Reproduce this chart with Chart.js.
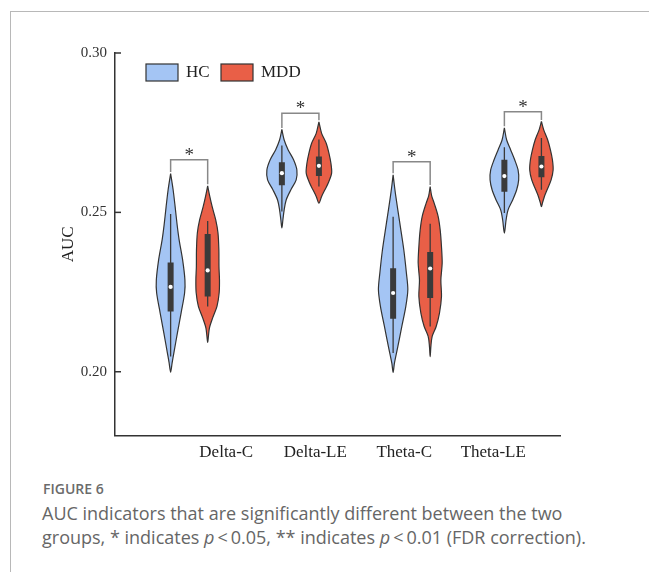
<!DOCTYPE html>
<html>
<head>
<meta charset="utf-8">
<script src="https://cdn.jsdelivr.net/npm/chart.js@4.4.1/dist/chart.umd.min.js"></script>
<style>
  html, body { margin: 0; padding: 0; background: #fff; }
  body { width: 649px; height: 572px; position: relative; overflow: hidden; }
  #frame { position: absolute; left: 10px; top: 11px; right: -5px; bottom: -5px; border-left: 1px solid #b8b8b8; border-top: 1px solid #b8b8b8; }
  #chart { position: absolute; left: 0; top: 0; }
  .fig { position: absolute; left: 43px; top: 481.5px; font: 600 14px/14px "Open Sans", sans-serif; color: #6b6b6b; }
  .cap { position: absolute; left: 42px; top: 502px; width: 600px; font: 400 18px/23.5px "Open Sans", sans-serif; color: #666; }
</style>
</head>
<body>
<div id="frame"></div>
<canvas id="chart" width="649" height="470"></canvas>
<div class="fig">FIGURE 6</div>
<div class="cap">AUC indicators that are significantly different between the two<br>groups, * indicates <i>p</i>&thinsp;&lt;&thinsp;0.05, ** indicates <i>p</i>&thinsp;&lt;&thinsp;0.01 (FDR correction).</div>
<script>
const categories = ['Delta-C', 'Delta-LE', 'Theta-C', 'Theta-LE'];
const groups = ['HC', 'MDD'];
const yTicks = [0.20, 0.25, 0.30];

// box stats per category: [lower whisker, Q1, median, Q3, upper whisker]
const hcStats = [
  [0.2048, 0.2189, 0.2266, 0.2343, 0.2495],
  [0.2503, 0.2585, 0.2623, 0.2657, 0.2710],
  [0.2059, 0.2166, 0.2247, 0.2325, 0.2486],
  [0.2498, 0.2565, 0.2614, 0.2665, 0.2704]
];
const mddStats = [
  [0.2205, 0.2236, 0.2318, 0.2432, 0.2473],
  [0.2581, 0.2614, 0.2646, 0.2675, 0.2729],
  [0.2142, 0.2231, 0.2324, 0.2376, 0.2464],
  [0.2571, 0.2610, 0.2644, 0.2677, 0.2733]
];

// violin outlines: AUC levels (top tip to bottom tip) and the density (half width) read at each level
const hcAuc = [
  [0.2622, 0.2571, 0.2518, 0.2461, 0.2414, 0.2351, 0.2288, 0.2248, 0.2185, 0.2122, 0.2060, 0.2028, 0.1999],
  [0.2760, 0.2727, 0.2696, 0.2665, 0.2633, 0.2602, 0.2571, 0.2539, 0.2508, 0.2476, 0.2451],
  [0.2618, 0.2586, 0.2550, 0.2466, 0.2382, 0.2309, 0.2257, 0.2205, 0.2142, 0.2079, 0.2027, 0.1998],
  [0.2765, 0.2727, 0.2696, 0.2665, 0.2633, 0.2602, 0.2571, 0.2539, 0.2508, 0.2476, 0.2435]
];
const hcDen = [
  [0, 2.5, 4.5, 6.5, 8.5, 12, 14.3, 14, 10.5, 6.8, 3.3, 1.5, 0],
  [0, 2.3, 6.3, 11.7, 15, 14.3, 9, 4.3, 2.3, 1, 0],
  [0, 1.2, 2.7, 6.7, 10.7, 13.3, 14.7, 12.7, 8.7, 4.7, 1.3, 0],
  [0, 2.3, 6.3, 10.3, 13.7, 14.3, 12.3, 8.3, 3.7, 1.7, 0]
];
const mddAuc = [
  [0.2583, 0.2552, 0.2518, 0.2477, 0.2436, 0.2382, 0.2330, 0.2288, 0.2248, 0.2205, 0.2169, 0.2138, 0.2113, 0.2092],
  [0.2784, 0.2748, 0.2717, 0.2686, 0.2654, 0.2623, 0.2592, 0.2571, 0.2550, 0.2529],
  [0.2581, 0.2552, 0.2529, 0.2487, 0.2445, 0.2393, 0.2341, 0.2288, 0.2236, 0.2184, 0.2142, 0.2111, 0.2079, 0.2047],
  [0.2785, 0.2759, 0.2727, 0.2696, 0.2665, 0.2633, 0.2602, 0.2571, 0.2550, 0.2529, 0.2518]
];
const mddDen = [
  [0, 2, 4.5, 8, 10.3, 11.2, 11.3, 11.8, 11.5, 9.3, 5, 1.8, 0.8, 0],
  [0, 2.7, 7.3, 10, 12, 12.7, 9.3, 6, 2.7, 0],
  [0, 1.5, 4, 8, 10, 11.3, 12, 10.7, 11.3, 9.3, 6, 2, 0.7, 0],
  [0, 2.3, 6.3, 9, 11, 11.7, 9.7, 5.7, 3, 1, 0]
];

// significance brackets (AUC level of the bar) and their labels
const bracketAuc = [0.2665, 0.2811, 0.2659, 0.2816];
const bracketText = ['*', '*', '*', '*'];

const COLORS = { HC: '#a4c5f4', MDD: '#e95f47' };
const MDD_SHIFT = 0.333;
const DEN_TO_X = 1 / 111.25;
const labelPos = categories.map((c, i) => 1.5 + 0.8 * i);
const SERIF = '"Liberation Serif", "Times New Roman", serif';

function violin(center, auc, den, color) {
  const right = auc.map((v, i) => ({ x: center + den[i] * DEN_TO_X, y: v }));
  const left = auc.map((v, i) => ({ x: center - den[i] * DEN_TO_X, y: v })).reverse();
  return {
    data: right.concat(left.slice(1)), fill: 'shape', backgroundColor: color,
    borderColor: '#333', borderWidth: 1.2, pointRadius: 0, tension: 0.3, order: 5
  };
}
function seg(x, y1, y2, width) {
  return {
    data: [{ x: x, y: y1 }, { x: x, y: y2 }], borderColor: '#3a3a3a', borderWidth: width,
    borderCapStyle: 'butt', pointRadius: 0, fill: false, tension: 0, order: width > 3 ? 2 : 3
  };
}

const datasets = [];
categories.forEach((cat, i) => {
  [[hcStats, hcAuc, hcDen, 'HC', 0], [mddStats, mddAuc, mddDen, 'MDD', MDD_SHIFT]].forEach(([st, auc, den, g, shift]) => {
    const c = i + 1 + shift;
    const s = st[i];
    datasets.push(violin(c, auc[i], den[i], COLORS[g]));
    datasets.push(seg(c, s[0], s[4], 1.3));
    datasets.push(seg(c, s[1], s[3], 6));
    datasets.push({ data: [{ x: c, y: s[2] }], showLine: false, pointRadius: 2.1, pointBorderWidth: 0,
      pointBackgroundColor: '#fff', order: 1 });
  });
  const x1 = i + 1, x2 = i + 1 + MDD_SHIFT;
  datasets.push({
    data: [{ x: x1, y: hcAuc[i][0] + 0.0005 }, { x: x1, y: bracketAuc[i] }, { x: x2, y: bracketAuc[i] }, { x: x2, y: mddAuc[i][0] + 0.0005 }],
    borderColor: '#888', borderWidth: 1.5, pointRadius: 0, fill: false, tension: 0, order: 5
  });
});

const extras = {
  id: 'extras',
  afterDatasetsDraw(chart) {
    const { ctx, scales: { x, y } } = chart;
    ctx.save();
    ctx.fillStyle = '#333';
    ctx.font = '19px ' + SERIF;
    ctx.textAlign = 'center';
    ctx.textBaseline = 'alphabetic';
    bracketAuc.forEach((b, i) => {
      ctx.fillText(bracketText[i], x.getPixelForValue(i + 1 + MDD_SHIFT / 2), y.getPixelForValue(b) + 1);
    });
    ctx.restore();
  },
  afterDraw(chart) {
    const { ctx, scales: { x, y } } = chart;
    ctx.save();
    // inward y ticks
    ctx.strokeStyle = '#333';
    ctx.lineWidth = 1.5;
    yTicks.forEach(t => {
      const py = y.getPixelForValue(t);
      ctx.beginPath();
      ctx.moveTo(x.left, py);
      ctx.lineTo(x.left + 6, py);
      ctx.stroke();
    });
    // legend
    ctx.font = '17px ' + SERIF;
    ctx.textBaseline = 'middle';
    ctx.lineWidth = 1.2;
    let lx = 146;
    groups.forEach(g => {
      ctx.fillStyle = COLORS[g];
      ctx.fillRect(lx, 64, 32, 17);
      ctx.strokeRect(lx, 64, 32, 17);
      ctx.fillStyle = '#222';
      ctx.fillText(g, lx + 40, 73);
      lx += 75;
    });
    ctx.restore();
  }
};

new Chart(document.getElementById('chart'), {
  type: 'line',
  data: { datasets },
  options: {
    responsive: false,
    animation: false,
    layout: { padding: { top: 53, right: 89, left: 0, bottom: 0 } },
    plugins: { legend: { display: false }, tooltip: { enabled: false } },
    scales: {
      x: {
        type: 'linear', min: 0.5, max: 4.5,
        afterBuildTicks: ax => { ax.ticks = labelPos.map(v => ({ value: v })); },
        afterFit: s => { s.height = 34.5; },
        ticks: { callback: (v, i) => categories[i], autoSkip: false, maxRotation: 0, padding: 7,
          color: '#222', font: { family: SERIF, size: 17 } },
        grid: { drawOnChartArea: false, drawTicks: false },
        border: { color: '#333', width: 1.5 }
      },
      y: {
        min: 0.18, max: 0.30,
        afterBuildTicks: ax => { ax.ticks = yTicks.map(v => ({ value: v })); },
        afterFit: s => { s.width = 115; },
        ticks: { callback: v => v.toFixed(2), padding: 8, color: '#333', font: { family: SERIF, size: 15 } },
        title: { display: true, text: 'AUC', color: '#222', font: { family: SERIF, size: 17 }, padding: { top: 58 } },
        grid: { drawOnChartArea: false, drawTicks: false },
        border: { color: '#333', width: 1.5 }
      }
    }
  },
  plugins: [extras]
});
</script>
</body>
</html>
